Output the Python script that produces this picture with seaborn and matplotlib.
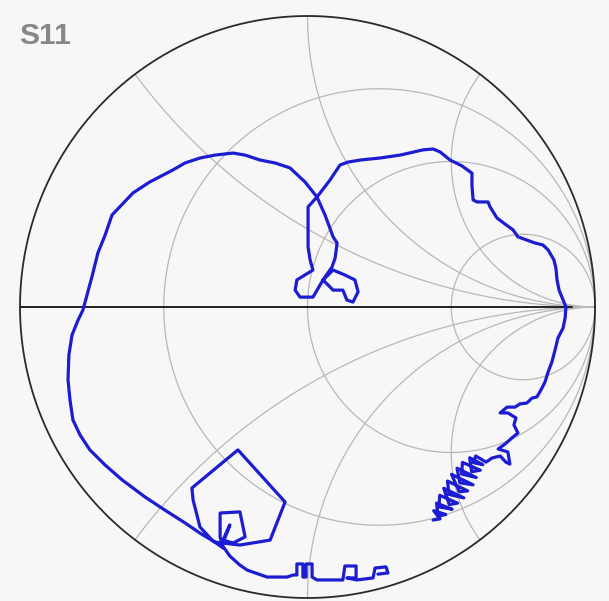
import numpy as np
import matplotlib
matplotlib.use("Agg")
import matplotlib.pyplot as plt
import seaborn as sns
import pandas as pd

# ---- data: S11 reflection coefficient trace (real / imaginary part of Gamma)
gamma_re = [0.437, 0.461, 0.439, 0.481, 0.454, 0.449, 0.503, 0.457, 0.460, 0.522,
            0.493, 0.474, 0.544, 0.492, 0.487, 0.557, 0.528, 0.501, 0.576, 0.530,
            0.520, 0.587, 0.536, 0.539, 0.601, 0.571, 0.564, 0.610, 0.577, 0.585,
            0.621, 0.642, 0.670, 0.690, 0.704, 0.697, 0.663, 0.687,
            0.711, 0.732, 0.718,
            0.725, 0.697, 0.670, 0.694, 0.722, 0.739, 0.763, 0.781, 0.798, 0.812,
            0.826, 0.837, 0.850, 0.861, 0.871, 0.889, 0.896, 0.899, 0.889, 0.875,
            0.868, 0.864, 0.857, 0.837, 0.819, 0.791, 0.763, 0.732, 0.715, 0.687,
            0.659, 0.635, 0.628, 0.590, 0.576, 0.572, 0.572, 0.537, 0.496, 0.461,
            0.437, 0.402, 0.322, 0.252, 0.183, 0.141, 0.113, 0.078, 0.033, 0.061,
            0.089, 0.103, 0.096, 0.085, 0.054, 0.089, 0.123, 0.137, 0.158, 0.176,
            0.165, 0.130, 0.089, 0.054, 0.019, -0.026, -0.043, -0.037, 0.019, 0.009,
            0.002, 0.002, 0.033, -0.009, -0.061, -0.113, -0.165, -0.217, -0.259, -0.322,
            -0.374, -0.426, -0.468, -0.548, -0.607, -0.680, -0.704, -0.729, -0.750, -0.767,
            -0.781, -0.798, -0.819, -0.830, -0.833, -0.826, -0.816, -0.791, -0.757, -0.704,
            -0.645, -0.565, -0.496, -0.426, -0.374, -0.322, -0.235, -0.130, -0.078, -0.242,
            -0.402, -0.398, -0.374, -0.332, -0.294, -0.304, -0.304, -0.235, -0.217, -0.259,
            -0.294, -0.270, -0.297, -0.270, -0.235, -0.210, -0.141, -0.071,
            -0.050, -0.037, -0.037, -0.016, -0.016, -0.005, -0.005, 0.016, 0.016, 0.033,
            0.123, 0.130, 0.169, 0.169, 0.137, 0.172, 0.228, 0.235, 0.273, 0.280, 0.245]
gamma_im = [-0.732, -0.728, -0.700, -0.713, -0.719, -0.674, -0.695, -0.687, -0.647, -0.674,
            -0.679, -0.623, -0.656, -0.644, -0.598, -0.632, -0.635, -0.575, -0.611, -0.604,
            -0.554, -0.586, -0.574, -0.534, -0.561, -0.566, -0.518, -0.542, -0.535, -0.512,
            -0.533, -0.519, -0.512, -0.533, -0.540, -0.498, -0.488, -0.471,
            -0.450, -0.433, -0.405,
            -0.381, -0.364, -0.364, -0.344, -0.344, -0.333, -0.330, -0.313, -0.309, -0.285,
            -0.258, -0.223, -0.189, -0.148, -0.107, -0.072, -0.038, 0.000, 0.024, 0.058,
            0.093, 0.134, 0.162, 0.196, 0.213, 0.220, 0.230, 0.241, 0.265, 0.285,
            0.306, 0.344, 0.361, 0.361, 0.368, 0.419, 0.460, 0.485, 0.505, 0.533,
            0.543, 0.540, 0.522, 0.512, 0.505, 0.498, 0.488, 0.436, 0.378, 0.316,
            0.241, 0.220, 0.168, 0.137, 0.093, 0.058, 0.058, 0.024, 0.017, 0.052,
            0.093, 0.110, 0.127, 0.093, 0.034, 0.034, 0.058, 0.093, 0.127, 0.162,
            0.206, 0.344, 0.378, 0.430, 0.478, 0.495, 0.505, 0.522, 0.529, 0.522,
            0.512, 0.495, 0.471, 0.430, 0.392, 0.316, 0.247, 0.186, 0.103, 0.041,
            -0.010, -0.045, -0.096, -0.165, -0.251, -0.320, -0.388, -0.440, -0.491, -0.543,
            -0.594, -0.653, -0.698, -0.742, -0.777, -0.808, -0.818, -0.801, -0.670, -0.491,
            -0.622, -0.663, -0.756, -0.801, -0.828, -0.790, -0.708, -0.704, -0.790, -0.811,
            -0.801, -0.749, -0.818, -0.856, -0.887, -0.904, -0.928, -0.928,
            -0.921, -0.921, -0.883, -0.883, -0.928, -0.928, -0.883, -0.883, -0.928, -0.938,
            -0.938, -0.890, -0.890, -0.931, -0.931, -0.938, -0.931, -0.897, -0.893, -0.914, -0.918]

r_circles = [1 / 3, 1, 3]       # constant-resistance grid circles
x_arcs = [0.5, 1, 2]            # constant-reactance grid arcs (drawn +/-)
title = "S11"

sns.set_theme(style="white")
bg = "#f7f7f7"
fig = plt.figure(figsize=(6.09, 6.01), dpi=100, facecolor=bg)
ax = fig.add_axes([20 / 609, 3 / 601, 575 / 609, 582 / 601])
ax.set_facecolor(bg)

grid_kw = dict(color="#b8b8b8", lw=0.9, clip_on=False, zorder=1)
t = np.linspace(0, 2 * np.pi, 721)
for r in r_circles:
    c = r / (1 + r)
    rad = 1 / (1 + r)
    ax.plot(c + rad * np.cos(t), rad * np.sin(t), **grid_kw)
rr = np.concatenate([np.linspace(0, 1, 200), np.logspace(0, 3.5, 400)])
for xv in x_arcs:
    for s in (1, -1):
        z = rr + 1j * s * xv
        g = (z - 1) / (z + 1)
        ax.plot(g.real, g.imag, **grid_kw)

ax.plot([0.92, 1.0], [0, 0], color="#b8b8b8", lw=1.3, clip_on=False, zorder=1)
ax.plot([-1.0, 0.92], [0, 0], color="#111111", lw=1.3, clip_on=False, zorder=2)
ax.plot(np.cos(t), np.sin(t), color="#2a2a2a", lw=1.3, clip_on=False, zorder=2)

df = pd.DataFrame({"re": gamma_re, "im": gamma_im})
sns.lineplot(data=df, x="re", y="im", sort=False, estimator=None,
             color="#1c1cd2", lw=2.3, ax=ax, zorder=3)

ax.set_xlim(-1, 1)
ax.set_ylim(-1, 1)
ax.axis("off")

fig.text(19 / 609, 1 - 44 / 601, title, fontsize=21.6, fontweight="bold",
         color="#878787", family=["Liberation Sans", "DejaVu Sans"], va="baseline")

fig.savefig("out.png", dpi=100, facecolor=bg)
